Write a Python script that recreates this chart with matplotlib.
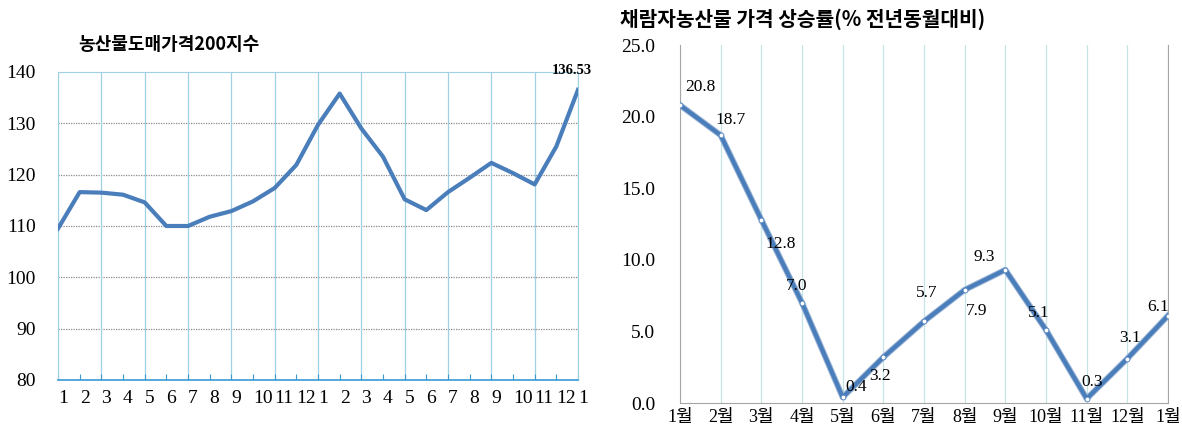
import matplotlib
matplotlib.use("Agg")
import matplotlib.pyplot as plt

# ---- data ----
left_title = "농산물도매가격200지수"
left_labels = ["1", "2", "3", "4", "5", "6", "7", "8", "9", "10", "11", "12",
               "1", "2", "3", "4", "5", "6", "7", "8", "9", "10", "11", "12", "1"]
left_values = [109.5, 116.6, 116.5, 116.1, 114.6, 110.0, 110.0, 111.8, 112.9, 114.8,
               117.4, 121.9, 129.7, 135.8, 129.0, 123.5, 115.2, 113.1, 116.6, 119.4,
               122.3, 120.3, 118.1, 125.5, 136.53]
left_last_label = "136.53"

right_title = "채람자농산물 가격 상승률(% 전년동월대비)"
right_labels = ["1월", "2월", "3월", "4월", "5월", "6월", "7월", "8월", "9월",
                "10월", "11월", "12월", "1월"]
right_values = [20.8, 18.7, 12.8, 7.0, 0.4, 3.2, 5.7, 7.9, 9.3, 5.1, 0.3, 3.1, 6.1]

SERIF = ["Liberation Serif", "Noto Sans CJK KR"]
CJK_BOLD = ["Noto Sans CJK KR", "DejaVu Sans"]

fig = plt.figure(figsize=(11.82, 4.34), dpi=100)

# ---------------- left chart ----------------
axL = fig.add_axes([58 / 1182, 1 - 380 / 434, 520 / 1182, 308 / 434])
xL = list(range(len(left_values)))
axL.plot(xL, left_values, color="#4a7ebb", lw=3.0, solid_joinstyle="round", zorder=3)
axL.set_xlim(0, len(left_values) - 1)
axL.set_ylim(80, 140)
axL.set_yticks([80, 90, 100, 110, 120, 130, 140])
for y in [90, 100, 110, 120, 130]:
    axL.axhline(y, color="#8a8a8a", lw=0.9, ls=(0, (1, 1)), zorder=1)
for x in xL[::2]:
    axL.axvline(x, color="#9fd0e6", lw=0.9, zorder=1)
for side in ["top", "left", "right"]:
    axL.spines[side].set_color("#9fd0e6")
axL.spines["bottom"].set_color("#3b9ad6")
axL.spines["bottom"].set_linewidth(1.2)
axL.set_xticks(xL)
axL.set_xticklabels(left_labels, ha="left", family=SERIF, fontsize=14)
axL.tick_params(axis="x", direction="in", length=4, color="#3b9ad6", pad=7)
axL.tick_params(axis="y", length=0, pad=16, labelsize=14)
for t in axL.get_yticklabels():
    t.set_family(SERIF)
axL.annotate(left_last_label, (xL[-1], left_values[-1]), xytext=(-6, 13),
             textcoords="offset pixels", ha="center", va="bottom",
             family=SERIF, fontsize=10.5, fontweight="bold")
fig.text(78 / 1182, 1 - 45 / 434, left_title, family=CJK_BOLD, fontweight="bold",
         fontsize=13, ha="left", va="center")

# ---------------- right chart ----------------
axR = fig.add_axes([680 / 1182, 1 - 403 / 434, 488 / 1182, 358 / 434])
xR = list(range(len(right_values)))
axR.plot(xR, right_values, color="#9bb5d6", lw=4.4, solid_joinstyle="round", zorder=2)
axR.plot(xR, right_values, color="#4a7ebb", lw=3.0, solid_joinstyle="round", zorder=3,
         marker="o", markersize=3.5, markerfacecolor="white",
         markeredgecolor="#4a7ebb", markeredgewidth=0.6)
axR.set_xlim(0, len(right_values) - 1)
axR.set_ylim(0, 25)
axR.set_yticks([0, 5, 10, 15, 20, 25])
axR.set_yticklabels([f"{v:.1f}" for v in [0, 5, 10, 15, 20, 25]], family=SERIF, fontsize=14)
for x in xR:
    axR.axvline(x, color="#c4e4e6", lw=0.9, zorder=1)
axR.spines["top"].set_visible(False)
for side in ["left", "right", "bottom"]:
    axR.spines[side].set_color("#a6a6a6")
axR.set_xticks(xR)
axR.set_xticklabels(right_labels, family=SERIF, fontsize=13)
axR.tick_params(axis="x", length=0, pad=4)
axR.tick_params(axis="y", length=0, pad=18)

offsets = [(20, 18), (10, 15), (19, -24), (-5, 17), (14, 10), (-3, -19), (3, 28),
           (12, -21), (-21, 13), (-7, 17), (5, 17), (3, 21), (-10, 9)]
for x, v, (dx, dy) in zip(xR, right_values, offsets):
    axR.annotate(f"{v:.1f}", (x, v), xytext=(dx, dy), textcoords="offset pixels",
                 ha="center", va="center", family=SERIF, fontsize=12.5, zorder=5)

fig.text(620 / 1182, 1 - 19 / 434, right_title, family=CJK_BOLD, fontweight="bold",
         fontsize=14.6, ha="left", va="center")

fig.savefig("out.png", dpi=100)
